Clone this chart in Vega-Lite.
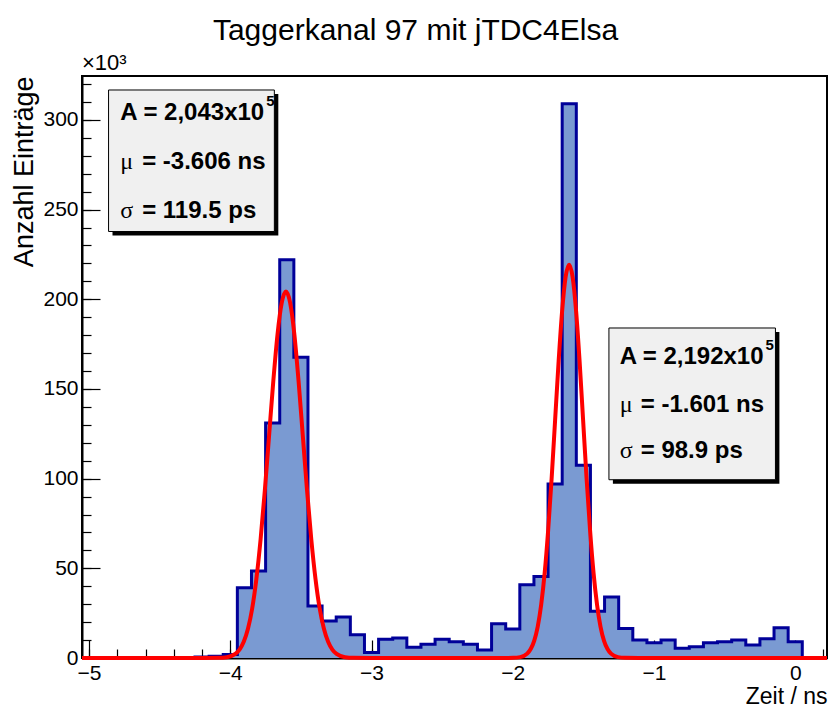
{
  "$schema": "https://vega.github.io/schema/vega-lite/v6.json",
  "width": 745,
  "height": 582,
  "autosize": {"type": "none"},
  "padding": {"left": 82, "top": 76, "right": 3, "bottom": 51},
  "background": "#ffffff",
  "title": {"text": "Taggerkanal 97 mit jTDC4Elsa", "fontSize": 30, "font": "Liberation Sans", "fontWeight": "normal", "color": "#000000", "anchor": "middle", "frame": "group", "dx": -39, "offset": 6},
  "config": {
    "view": {"stroke": "#000000", "strokeWidth": 2},
    "font": "Liberation Sans",
    "axis": {"grid": false, "domainColor": "#000000", "domainWidth": 2, "tickColor": "#000000", "tickWidth": 1.2, "labelColor": "#000000", "titleColor": "#000000", "labelFont": "Liberation Sans", "titleFont": "Liberation Sans", "labelFontSize": 21, "titleFontSize": 23, "titleFontWeight": "normal"}
  },
  "datasets": {
    "hist": [
      {"x": -5.05, "n": 0}, {"x": -4.95, "n": 0}, {"x": -4.85, "n": 0}, {"x": -4.75, "n": 0}, {"x": -4.65, "n": 0}, {"x": -4.55, "n": 0}, {"x": -4.45, "n": 0}, {"x": -4.35, "n": 0},
      {"x": -4.25, "n": 0.6}, {"x": -4.15, "n": 1.0}, {"x": -4.05, "n": 2.0}, {"x": -3.95, "n": 39.2}, {"x": -3.85, "n": 48.5}, {"x": -3.75, "n": 131}, {"x": -3.65, "n": 222}, {"x": -3.55, "n": 167.7}, {"x": -3.45, "n": 29}, {"x": -3.35, "n": 20.6}, {"x": -3.25, "n": 22.8}, {"x": -3.15, "n": 13}, {"x": -3.05, "n": 3},
      {"x": -2.95, "n": 10.5}, {"x": -2.85, "n": 11.2}, {"x": -2.75, "n": 6}, {"x": -2.65, "n": 7.6}, {"x": -2.55, "n": 10.4}, {"x": -2.45, "n": 9.1}, {"x": -2.35, "n": 7.6}, {"x": -2.25, "n": 4.4}, {"x": -2.15, "n": 19.1}, {"x": -2.05, "n": 16.2},
      {"x": -1.95, "n": 40.8}, {"x": -1.85, "n": 45.5}, {"x": -1.75, "n": 97}, {"x": -1.65, "n": 309}, {"x": -1.55, "n": 107.5}, {"x": -1.45, "n": 26}, {"x": -1.35, "n": 34}, {"x": -1.25, "n": 16.5}, {"x": -1.15, "n": 10}, {"x": -1.05, "n": 8.5},
      {"x": -0.95, "n": 10}, {"x": -0.85, "n": 5.4}, {"x": -0.75, "n": 6.3}, {"x": -0.65, "n": 8.5}, {"x": -0.55, "n": 9.1}, {"x": -0.45, "n": 10}, {"x": -0.35, "n": 7.2}, {"x": -0.25, "n": 10.8}, {"x": -0.15, "n": 16.9}, {"x": -0.05, "n": 9.1}, {"x": 0.05, "n": 0}
    ],
    "fit": [
      {"x": -5.05, "f": 0}, {"x": -4.2035, "f": 0}, {"x": -4.084, "f": 0.07}, {"x": -4.0243, "f": 0.45}, {"x": -3.9645, "f": 2.27}, {"x": -3.9346, "f": 4.66}, {"x": -3.9048, "f": 9.0}, {"x": -3.8749, "f": 16.3}, {"x": -3.845, "f": 27.6}, {"x": -3.8151, "f": 44.2}, {"x": -3.7853, "f": 66.3}, {"x": -3.7554, "f": 93.5}, {"x": -3.7255, "f": 123.9}, {"x": -3.6956, "f": 154.2}, {"x": -3.6658, "f": 180.3}, {"x": -3.6359, "f": 198.0}, {"x": -3.606, "f": 204.3},
      {"x": -3.5761, "f": 198.0}, {"x": -3.5462, "f": 180.3}, {"x": -3.5164, "f": 154.2}, {"x": -3.4865, "f": 123.9}, {"x": -3.4566, "f": 93.5}, {"x": -3.4267, "f": 66.3}, {"x": -3.3969, "f": 44.2}, {"x": -3.367, "f": 27.6}, {"x": -3.3371, "f": 16.3}, {"x": -3.3072, "f": 9.0}, {"x": -3.2774, "f": 4.66}, {"x": -3.2475, "f": 2.27}, {"x": -3.1877, "f": 0.45}, {"x": -3.128, "f": 0.07}, {"x": -3.0085, "f": 0},
      {"x": -2.0955, "f": 0}, {"x": -1.9966, "f": 0.07}, {"x": -1.9472, "f": 0.48}, {"x": -1.8977, "f": 2.43}, {"x": -1.873, "f": 5.0}, {"x": -1.8483, "f": 9.6}, {"x": -1.8235, "f": 17.4}, {"x": -1.7988, "f": 29.7}, {"x": -1.7741, "f": 47.4}, {"x": -1.7494, "f": 71.2}, {"x": -1.7246, "f": 100.3}, {"x": -1.6999, "f": 132.9}, {"x": -1.6752, "f": 165.5}, {"x": -1.6505, "f": 193.4}, {"x": -1.6257, "f": 212.4}, {"x": -1.601, "f": 219.2},
      {"x": -1.5763, "f": 212.4}, {"x": -1.5515, "f": 193.4}, {"x": -1.5268, "f": 165.5}, {"x": -1.5021, "f": 132.9}, {"x": -1.4774, "f": 100.3}, {"x": -1.4526, "f": 71.2}, {"x": -1.4279, "f": 47.4}, {"x": -1.4032, "f": 29.7}, {"x": -1.3785, "f": 17.4}, {"x": -1.3537, "f": 9.6}, {"x": -1.329, "f": 5.0}, {"x": -1.3043, "f": 2.43}, {"x": -1.2548, "f": 0.48}, {"x": -1.2054, "f": 0.07}, {"x": -1.1065, "f": 0}, {"x": 0.225, "f": 0}
    ],
    "shadows": [
      {"x": -4.834, "x2": -3.660, "y": 235.6, "y2": 314.5},
      {"x": -1.291, "x2": -0.112, "y": 97.2, "y2": 181.8}
    ],
    "boxes": [
      {"x": -4.862, "x2": -3.688, "y": 237.8, "y2": 316.7},
      {"x": -1.319, "x2": -0.140, "y": 99.4, "y2": 184.0}
    ],
    "labels": [
      {"x": -4.779, "y": 303.9, "label": "A = 2,043x10"},
      {"x": -4.624, "y": 276.6, "label": "= -3.606 ns"},
      {"x": -4.624, "y": 249.3, "label": "= 119.5 ps"},
      {"x": -1.243, "y": 168.1, "label": "A = 2,192x10"},
      {"x": -1.094, "y": 141.2, "label": "= -1.601 ns"},
      {"x": -1.094, "y": 115.2, "label": "= 98.9 ps"}
    ],
    "greek": [
      {"x": -4.779, "y": 276.6, "label": "μ"},
      {"x": -4.779, "y": 249.3, "label": "σ"},
      {"x": -1.243, "y": 141.2, "label": "μ"},
      {"x": -1.243, "y": 115.2, "label": "σ"}
    ],
    "sups": [
      {"x": -3.745, "y": 310.6, "label": "5"},
      {"x": -0.21, "y": 174.7, "label": "5"}
    ],
    "mult": [
      {"x": -5.05, "y": 324.5, "label": "×10³"}
    ]
  },
  "layer": [
    {
      "data": {"name": "hist"},
      "mark": {"type": "area", "interpolate": "step-after", "color": "#7a9ad2"},
      "encoding": {
        "x": {"field": "x", "type": "quantitative", "scale": {"domain": [-5.05, 0.225], "nice": false, "zero": false},
              "axis": {"orient": "bottom", "values": [-5, -4, -3, -2, -1, 0], "format": "d", "tickSize": -18, "labelPadding": 22, "title": "Zeit / ns", "titleAnchor": "end", "titleAlign": "right", "titlePadding": 2}},
        "y": {"field": "n", "type": "quantitative", "scale": {"domain": [0, 324.5], "nice": false},
              "axis": {"orient": "left", "values": [0, 50, 100, 150, 200, 250, 300], "format": "d", "tickSize": -18, "labelPadding": 22, "title": "Anzahl Einträge", "titleFontSize": 27, "titleAnchor": "end", "titlePadding": 4}}
      }
    },
    {
      "data": {"name": "hist"},
      "mark": {"type": "line", "interpolate": "step-after", "color": "#000099", "strokeWidth": 3},
      "encoding": {
        "x": {"field": "x", "type": "quantitative", "scale": {"domain": [-5.05, 0.225], "nice": false, "zero": false},
              "axis": {"orient": "bottom", "values": [-5, -4.8, -4.6, -4.4, -4.2, -4, -3.8, -3.6, -3.4, -3.2, -3, -2.8, -2.6, -2.4, -2.2, -2, -1.8, -1.6, -1.4, -1.2, -1, -0.8, -0.6, -0.4, -0.2, 0, 0.2], "tickSize": -9, "labels": false, "domain": false, "title": null}},
        "y": {"field": "n", "type": "quantitative", "scale": {"domain": [0, 324.5], "nice": false},
              "axis": {"orient": "left", "values": [0, 10, 20, 30, 40, 50, 60, 70, 80, 90, 100, 110, 120, 130, 140, 150, 160, 170, 180, 190, 200, 210, 220, 230, 240, 250, 260, 270, 280, 290, 300, 310, 320], "tickSize": -9, "labels": false, "domain": false, "title": null}}
      }
    },
    {
      "data": {"name": "fit"},
      "mark": {"type": "line", "interpolate": "monotone", "color": "#ff0000", "strokeWidth": 4},
      "encoding": {
        "x": {"field": "x", "type": "quantitative", "scale": {"domain": [-5.05, 0.225], "nice": false, "zero": false}, "axis": null},
        "y": {"field": "f", "type": "quantitative", "scale": {"domain": [0, 324.5], "nice": false}, "axis": null}
      }
    },
    {
      "data": {"name": "shadows"},
      "mark": {"type": "rect", "color": "#000000"},
      "encoding": {
        "x": {"field": "x", "type": "quantitative", "scale": {"domain": [-5.05, 0.225], "nice": false, "zero": false}, "axis": null},
        "x2": {"field": "x2"},
        "y": {"field": "y", "type": "quantitative", "scale": {"domain": [0, 324.5], "nice": false}, "axis": null},
        "y2": {"field": "y2"}
      }
    },
    {
      "data": {"name": "boxes"},
      "mark": {"type": "rect", "fill": "#f0f0f0", "stroke": "#000000", "strokeWidth": 1},
      "encoding": {
        "x": {"field": "x", "type": "quantitative", "scale": {"domain": [-5.05, 0.225], "nice": false, "zero": false}, "axis": null},
        "x2": {"field": "x2"},
        "y": {"field": "y", "type": "quantitative", "scale": {"domain": [0, 324.5], "nice": false}, "axis": null},
        "y2": {"field": "y2"}
      }
    },
    {
      "data": {"name": "labels"},
      "mark": {"type": "text", "align": "left", "baseline": "middle", "fontSize": 24, "fontWeight": "bold", "font": "Liberation Sans", "color": "#000000"},
      "encoding": {
        "x": {"field": "x", "type": "quantitative", "scale": {"domain": [-5.05, 0.225], "nice": false, "zero": false}, "axis": null},
        "y": {"field": "y", "type": "quantitative", "scale": {"domain": [0, 324.5], "nice": false}, "axis": null},
        "text": {"field": "label"}
      }
    },
    {
      "data": {"name": "greek"},
      "mark": {"type": "text", "align": "left", "baseline": "middle", "fontSize": 24, "fontWeight": "normal", "font": "Liberation Serif", "color": "#000000"},
      "encoding": {
        "x": {"field": "x", "type": "quantitative", "scale": {"domain": [-5.05, 0.225], "nice": false, "zero": false}, "axis": null},
        "y": {"field": "y", "type": "quantitative", "scale": {"domain": [0, 324.5], "nice": false}, "axis": null},
        "text": {"field": "label"}
      }
    },
    {
      "data": {"name": "sups"},
      "mark": {"type": "text", "align": "left", "baseline": "middle", "fontSize": 15, "fontWeight": "bold", "font": "Liberation Sans", "color": "#000000"},
      "encoding": {
        "x": {"field": "x", "type": "quantitative", "scale": {"domain": [-5.05, 0.225], "nice": false, "zero": false}, "axis": null},
        "y": {"field": "y", "type": "quantitative", "scale": {"domain": [0, 324.5], "nice": false}, "axis": null},
        "text": {"field": "label"}
      }
    },
    {
      "data": {"name": "mult"},
      "mark": {"type": "text", "align": "left", "baseline": "bottom", "dy": -1, "fontSize": 22, "font": "Liberation Sans", "color": "#000000"},
      "encoding": {
        "x": {"field": "x", "type": "quantitative", "scale": {"domain": [-5.05, 0.225], "nice": false, "zero": false}, "axis": null},
        "y": {"field": "y", "type": "quantitative", "scale": {"domain": [0, 324.5], "nice": false}, "axis": null},
        "text": {"field": "label"}
      }
    }
  ],
  "resolve": {"axis": {"x": "independent", "y": "independent"}}
}
